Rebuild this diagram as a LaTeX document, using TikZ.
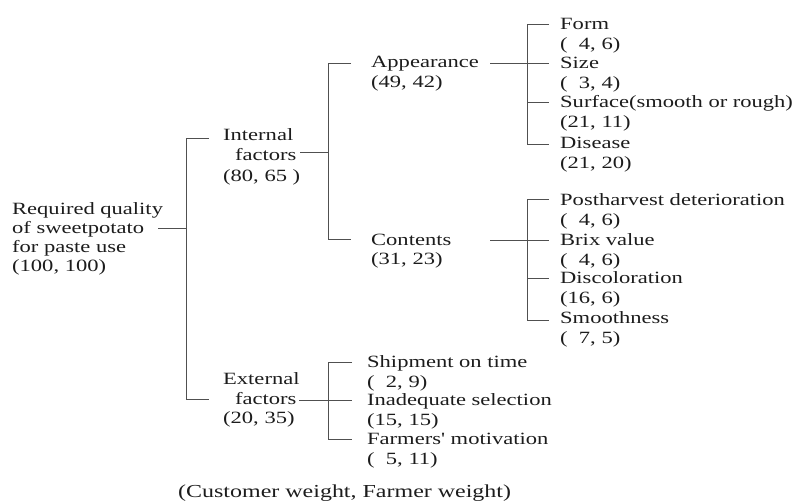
\documentclass[tikz,border=0pt]{standalone}
\usepackage{fontspec}
\setmainfont{Liberation Serif}[FakeStretch=1.31]
\newfontfamily\plainfont{Liberation Serif}[FakeStretch=1.31]
\definecolor{txt}{HTML}{1C1C1C}
\definecolor{ln}{HTML}{505050}
\newcommand{\lefttab}[1]{\begin{tabular}[t]{@{}l@{}}#1\end{tabular}}
\newcommand{\dg}{\hphantom{0}}
\begin{document}
\begin{tikzpicture}[x=1pt,y=-1pt,
  lbl/.style={anchor=base west, inner sep=0pt, text=txt, font=\fontsize{17.2}{19.8}\selectfont},
  conn/.style={draw=ln, line width=0.9pt}]
\useasboundingbox (0,0) rectangle (795,503);
% nodes
\node[lbl, font=\fontsize{17.2}{18.9}\selectfont] (root) at (12,214.5) {\lefttab{Required quality\\of sweetpotato\\for paste use\\(100, 100)}};
\node[lbl, font=\fontsize{17.2}{20.4}\selectfont] (internal) at (223,140.5) {\lefttab{Internal\\\hspace*{12pt}factors\\(80, 65 )}};
\node[lbl, font=\fontsize{17.2}{19.6}\selectfont] (external) at (223,384.5) {\lefttab{External\\\hspace*{12pt}factors\\(20, 35)}};
\node[lbl] (appearance) at (371,67.5) {\lefttab{Appearance\\(49, 42)}};
\node[lbl] (contents) at (371,245) {\lefttab{Contents\\(31, 23)}};
\node[lbl] (form) at (560,29.5) {\lefttab{Form\\(\dg4, 6)}};
\node[lbl] (size) at (560,68.5) {\lefttab{Size\\(\dg3, 4)}};
\node[lbl] (surface) at (560,107.5) {\lefttab{Surface(smooth or rough)\\(21, 11)}};
\node[lbl] (disease) at (560,148.5) {\lefttab{Disease\\(21, 20)}};
\node[lbl] (posth) at (560,205.5) {\lefttab{Postharvest deterioration\\(\dg4, 6)}};
\node[lbl] (brix) at (560,245.5) {\lefttab{Brix value\\(\dg4, 6)}};
\node[lbl] (discol) at (560,283.5) {\lefttab{Discoloration\\(16, 6)}};
\node[lbl] (smooth) at (560,323.5) {\lefttab{Smoothness\\(\dg7, 5)}};
\node[lbl] (ship) at (367,367.5) {\lefttab{Shipment on time\\(\dg2, 9)}};
\node[lbl] (inad) at (367,405.5) {\lefttab{Inadequate selection\\(15, 15)}};
\node[lbl] (farm) at (367,444.5) {\lefttab{Farmers{\plainfont '} motivation\\(\dg5, 11)}};
\node[lbl, font=\fontsize{18.3}{20}\selectfont] (caption) at (178,497.5) {(Customer weight, Farmer weight)};
% coordinates
\coordinate (rootR) at (158,228);
\coordinate (b1m) at (186,228);
\coordinate (b1t) at (186,138);
\coordinate (b1b) at (186,399);
\coordinate (intL) at (209,138);
\coordinate (extL) at (209,399);
\coordinate (intR) at (300,152);
\coordinate (b2m) at (328,152);
\coordinate (b2t) at (328,63);
\coordinate (b2b) at (328,239);
\coordinate (appL) at (351,63);
\coordinate (conL) at (351,239);
\coordinate (appR) at (490,63);
\coordinate (b3m) at (527,63);
\coordinate (b3t) at (527,24);
\coordinate (b3s) at (527,102);
\coordinate (b3b) at (527,144);
\coordinate (formL) at (549,24);
\coordinate (sizeL) at (549,63);
\coordinate (surfL) at (549,102);
\coordinate (disL) at (549,144);
\coordinate (conR) at (490,240);
\coordinate (b4t) at (527,199);
\coordinate (b4m) at (527,240);
\coordinate (b4s) at (527,278);
\coordinate (b4b) at (527,320);
\coordinate (posL) at (549,199);
\coordinate (brixL) at (549,240);
\coordinate (discL) at (549,278);
\coordinate (smL) at (549,320);
\coordinate (extR) at (299,400);
\coordinate (b5m) at (328,400);
\coordinate (b5t) at (328,362);
\coordinate (b5b) at (328,439);
\coordinate (shipL) at (352,362);
\coordinate (inadL) at (352,400);
\coordinate (farmL) at (352,439);
% connectors
\draw[conn] (rootR) -- (b1m);
\draw[conn] (intL) -- (b1t) -- (b1b) -- (extL);
\draw[conn] (intR) -- (b2m);
\draw[conn] (appL) -- (b2t) -- (b2b) -- (conL);
\draw[conn] (appR) -- (sizeL);
\draw[conn] (formL) -- (b3t) -- (b3b) -- (disL);
\draw[conn] (b3s) -- (surfL);
\draw[conn] (conR) -- (brixL);
\draw[conn] (posL) -- (b4t) -- (b4b) -- (smL);
\draw[conn] (b4s) -- (discL);
\draw[conn] (extR) -- (inadL);
\draw[conn] (shipL) -- (b5t) -- (b5b) -- (farmL);
\end{tikzpicture}
\end{document}
